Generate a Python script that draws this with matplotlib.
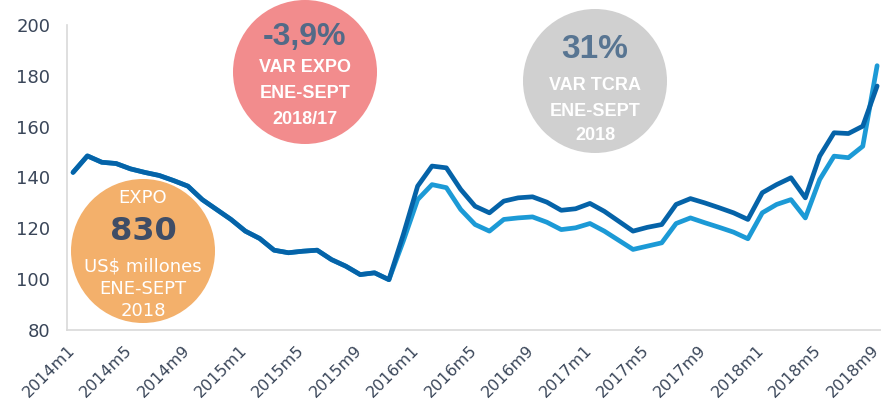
import matplotlib
matplotlib.use("Agg")
import matplotlib.pyplot as plt
import matplotlib.transforms as mtransforms
from matplotlib.patches import Circle

plt.rcParams['font.family'] = ['DejaVu Sans']

# monthly index values, 2014m1 .. 2018m9
years = [2014, 2015, 2016, 2017, 2018]
months = [f"{y}m{m}" for y in years for m in range(1, 13)][:57]
tick_labels = ['2014m1', '2014m5', '2014m9', '2015m1', '2015m5', '2015m9', '2016m1', '2016m5',
               '2016m9', '2017m1', '2017m5', '2017m9', '2018m1', '2018m5', '2018m9']

expo = [142, 148.5, 146, 145.5, 143.4, 142, 140.8, 138.8, 136.6, 131.3, 127.4, 123.5,
        118.9, 116, 111.4, 110.4, 111, 111.4, 107.7, 105.1, 101.8, 102.5, 99.8, 117.5,
        136.6, 144.5, 143.8, 135.3, 128.7, 126.1, 130.7, 132, 132.4, 130.3, 127.1, 127.7,
        129.8, 126.7, 122.8, 118.9, 120.4, 121.5, 129.4, 131.7, 130, 128.1, 126.1, 123.5,
        134, 137.2, 139.9, 132, 148.4, 157.6, 157.3, 160.2, 176]

tcra = [142, 148.5, 146, 145.5, 143.4, 142, 140.8, 138.8, 136.6, 131.3, 127.4, 123.5,
        118.9, 116, 111.4, 110.4, 111, 111.4, 107.7, 105.1, 101.8, 102.5, 99.8, 115,
        131.3, 137.2, 136, 127.4, 121.5, 118.9, 123.5, 124.1, 124.5, 122.4, 119.5, 120.2,
        121.9, 118.9, 115.3, 111.7, 113, 114.3, 121.9, 124.1, 122.2, 120.4, 118.5, 115.9,
        126.1, 129.4, 131.3, 124.1, 139.2, 148.4, 147.8, 152.3, 184]

yticks = [80, 100, 120, 140, 160, 180, 200]

W, H = 881, 409
fig = plt.figure(figsize=(W / 100, H / 100), dpi=100)

# background layer in pixel coords for the bubbles
bg = fig.add_axes([0, 0, 1, 1], zorder=0)
bg.set_xlim(0, W)
bg.set_ylim(H, 0)
bg.axis('off')

bubbles = [
    ((143, 251), '#F3B06B'),
    ((305, 72), '#F28C8D'),
    ((595, 81), '#D0D0D0'),
]
for (cx, cy), col in bubbles:
    bg.add_patch(Circle((cx, cy), 72, color=col, lw=0))

lib = ['Liberation Sans', 'DejaVu Sans']
nw = dict(color='white', ha='center', va='center', fontsize=13, family=lib, fontweight='bold')
bg.text(305, 37, '-3,9%', color='#526A87', ha='center', va='center', fontsize=23,
        family=lib, fontweight='bold')
bg.text(305, 68, 'VAR EXPO', **nw)
bg.text(305, 94, 'ENE-SEPT', **nw)
bg.text(305, 120, '2018/17', **nw)

bg.text(595, 49, '31%', color='#587592', ha='center', va='center', fontsize=24,
        family=lib, fontweight='bold')
bg.text(595, 86, 'VAR TCRA', **nw)
bg.text(595, 111, 'ENE-SEPT', **nw)
bg.text(595, 135, '2018', **nw)

ow = dict(color='white', ha='center', va='center', fontsize=13)
bg.text(143, 198, 'EXPO', **ow)
bg.text(143, 232, '830', color='#3F4D66', ha='center', va='center', fontsize=23, fontweight='bold')
bg.text(143, 266, 'US$ millones', **ow)
bg.text(143, 289, 'ENE-SEPT', **ow)
bg.text(143, 311, '2018', **ow)

ax = fig.add_axes([67 / W, 79 / H, (W - 67) / W, 305 / H], zorder=1)
ax.patch.set_alpha(0)
x = list(range(len(months)))
ax.plot(x, tcra, color='#1C9AD6', lw=3.4, solid_joinstyle='round', solid_capstyle='round')
ax.plot(x, expo, color='#0563A8', lw=3.4, solid_joinstyle='round', solid_capstyle='round')

ax.set_xlim(-0.42, 56.27)
ax.set_ylim(80, 200)
ax.set_yticks(yticks)
ax.set_xticks([months.index(t) for t in tick_labels])
ax.set_xticklabels(tick_labels, rotation=45, ha='right', rotation_mode='anchor')
ax.tick_params(length=0, labelsize=13, colors='#3A4659', pad=12)
ax.tick_params(axis='x', labelsize=11.5, pad=9)
shift = mtransforms.ScaledTranslation(-6 / 100, 0, fig.dpi_scale_trans)
for lab in ax.get_xticklabels():
    lab.set_transform(lab.get_transform() + shift)
for s in ['top', 'right']:
    ax.spines[s].set_visible(False)
for s in ['left', 'bottom']:
    ax.spines[s].set_color('#D9D9D9')
    ax.spines[s].set_linewidth(1.2)

fig.savefig('out.png', dpi=100)
